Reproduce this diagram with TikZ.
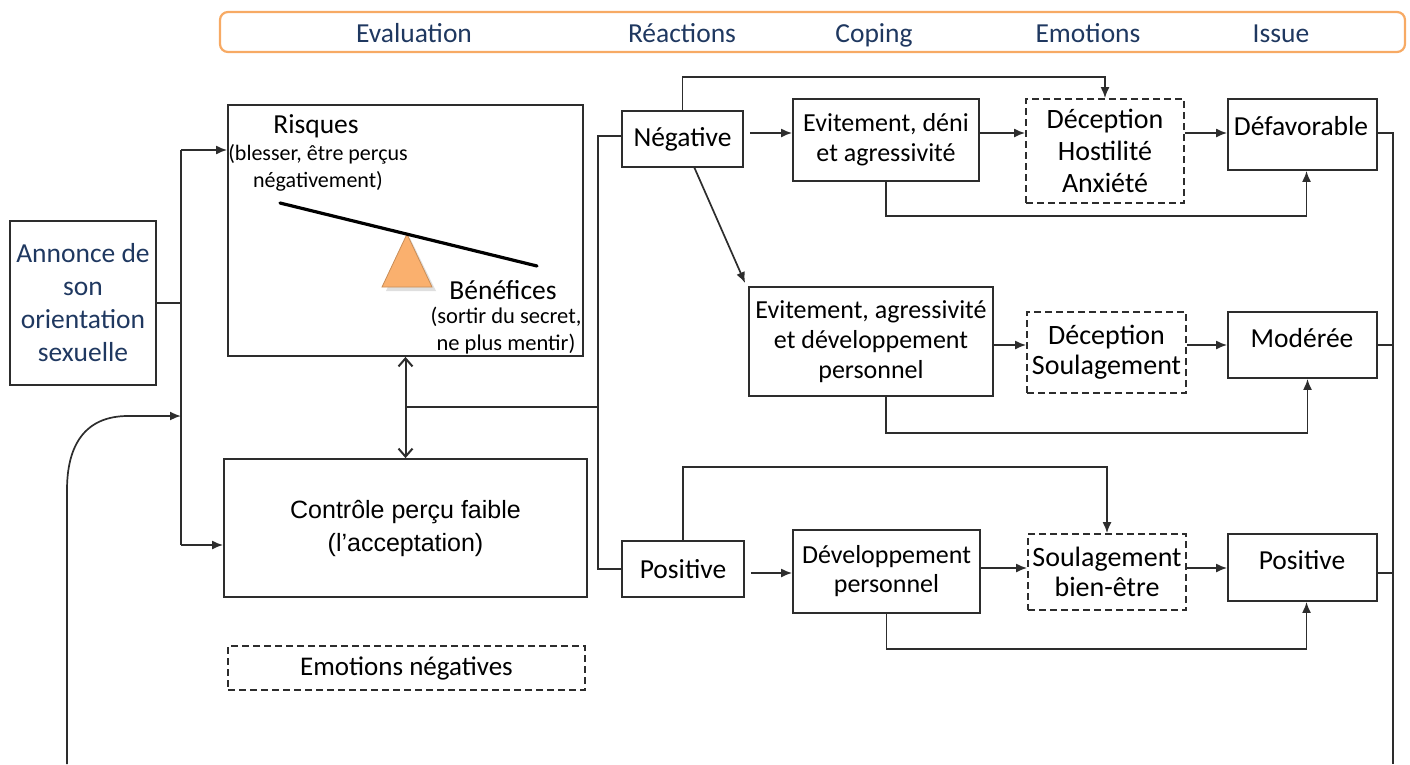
\documentclass[tikz,border=0pt]{standalone}
\usepackage{fontspec}
\setmainfont{Carlito}
\newfontfamily\arialf{Liberation Sans}
\usetikzlibrary{arrows.meta}
\definecolor{navy}{RGB}{31,56,96}
\definecolor{orangeb}{RGB}{247,170,100}
\definecolor{trif}{RGB}{250,176,110}
\definecolor{boxc}{RGB}{45,45,45}
\newcommand\myfs[2]{\fontsize{#1}{#2}\selectfont}
\begin{document}
\begin{tikzpicture}[x=1pt,y=-1pt,
  box/.style={draw=boxc,line width=1.8pt,align=center,inner sep=0pt,font=\myfs{27.5}{30}},
  dbox/.style={box,dash pattern=on 7pt off 4pt},
  txt/.style={inner sep=0pt,align=center,font=\myfs{27.5}{30}},
  hdr/.style={inner sep=0pt,anchor=base,font=\myfs{27.5}{30},text=navy},
  conn/.style={draw=boxc,line width=1.7pt},
  arr/.style={conn,-{Latex[length=11pt,width=9pt]}},
  dbl/.style={conn,line width=2pt,{Straight Barb[length=8pt,width=14pt]}-{Straight Barb[length=8pt,width=14pt]}}
]
\useasboundingbox (0,0) rectangle (1410,764);

% header
\draw[orangeb,line width=2.2pt,rounded corners=8pt] (220,12) rectangle (1405,52);
\node[hdr] (hEval) at (414,42) {Evaluation};
\node[hdr] (hReac) at (682,42) {Réactions};
\node[hdr] (hCop) at (874,42) {Coping};
\node[hdr] (hEmo) at (1088,42) {Emotions};
\node[hdr] (hIss) at (1281,42) {Issue};

% left boxes
\node[box,minimum width=146pt,minimum height=164pt,text=navy,font=\myfs{27.5}{33}] (annonce) at (83,303) {Annonce de\\son\\orientation\\sexuelle};
\node[box,minimum width=355pt,minimum height=251pt] (risques) at (405.5,230.5) {};
\node[box,minimum width=363pt,minimum height=138pt,font=\arialf\myfs{25}{33}] (controle) at (405.5,528) {Contrôle perçu faible\\(l’acceptation)};
\node[dbox,minimum width=357pt,minimum height=44pt,font=\myfs{27}{28}] (emoneg) at (406.5,668) {Emotions négatives};

% inside risques
\fill[gray!25] (410,238) -- (436,291) -- (386,291) -- cycle;
\draw[fill=trif,draw=trif!80!black,line width=0.8pt] (407,234) -- (432,287) -- (382,287) -- cycle;
\draw[line width=3.2pt,line cap=round] (280,203) -- (537,266);
\node[txt] (tRisq) at (316,126) {Risques};
\node[txt,font=\myfs{22}{27}] (tRisq2) at (318,168) {(blesser, être perçus\\négativement)};
\node[txt] (tBen) at (503,290) {Bénéfices};
\node[txt,font=\myfs{22.5}{27}] (tBen2) at (506,331) {(sortir du secret,\\ne plus mentir)};

% right boxes
\node[box,minimum width=121pt,minimum height=56pt] (neg) at (682.5,139) {Négative};
\node[box,minimum width=186pt,minimum height=82pt,font=\myfs{26}{30}] (evd) at (886,140) {Evitement, déni\\et agressivité};
\node[dbox,minimum width=158pt,minimum height=104pt,font=\myfs{28}{32}] (dec1) at (1105,151) {Déception\\Hostilité\\Anxiété};
\node[box,minimum width=149pt,minimum height=71pt] (defav) at (1302.5,134.5) {};
\node[txt] (tDefav) at (1301,126) {Défavorable};

\node[box,minimum width=244pt,minimum height=109pt,font=\myfs{26}{30}] (eva) at (871,341.5) {Evitement, agressivité\\et développement\\personnel};
\node[dbox,minimum width=159pt,minimum height=81pt,font=\myfs{28}{30}] (dec2) at (1106.5,352.5) {Déception\\Soulagement};
\node[box,minimum width=149pt,minimum height=66pt] (mod) at (1302.5,345) {};
\node[txt] (tMod) at (1302,338) {Modérée};

\node[box,minimum width=122pt,minimum height=56pt] (pos) at (683,569) {Positive};
\node[box,minimum width=187pt,minimum height=83pt,font=\myfs{26}{29}] (dev) at (886.5,571.5) {Développement\\personnel};
\node[dbox,minimum width=158pt,minimum height=76pt,font=\myfs{28}{30}] (soul) at (1107,572) {Soulagement\\bien-être};
\node[box,minimum width=149pt,minimum height=67pt] (pos2) at (1302.5,567.5) {};
\node[txt] (tPos2) at (1302,560) {Positive};

% left connectors
\coordinate (vtop) at (181,150);
\coordinate (vbot) at (181,545);
\draw[conn] (annonce.east) -- (annonce.east -| vtop);
\draw[conn] (vtop) -- (vbot);
\draw[arr] (vtop) -- (vtop -| risques.west);
\draw[arr] (vbot) -- (vbot -| controle.west);
\coordinate (cbot) at (67,764);
\coordinate (cin) at (181,416);
\draw[arr] (cbot) -- (67,490) .. controls (67,445) and (85,416) .. (128,416) -- (cin);
\draw[dbl] (risques.south) -- (controle.north);
\coordinate (h1) at (407,407);
\coordinate (vr1) at (598,136);
\draw[conn] (neg.west |- vr1) -- (vr1) -- (vr1 |- pos.west) -- (pos.west);
\draw[conn] (h1) -- (vr1 |- h1);

% negative branch
\draw[arr] (neg.north) -- (neg.north |- 0,77) -| (dec1.north);
\draw[arr,shorten <=6pt] (neg.east |- 0,133) -- (evd.west |- 0,133);
\draw[arr] (evd.east |- 0,133) -- (dec1.west |- 0,133);
\draw[arr] (dec1.east |- 0,133) -- (defav.west |- 0,133);
\draw[arr] (evd.south) -- (evd.south |- 0,216) -| ([xshift=4pt]defav.south);
\draw[arr] ([xshift=12pt]neg.south) -- ([xshift=-3pt,yshift=3pt]eva.north west);
\draw[arr] (eva.east |- 0,345) -- (dec2.west |- 0,345);
\draw[arr] (dec2.east |- 0,345) -- (mod.west |- 0,345);
\draw[arr] ([xshift=15pt]eva.south) -- ([xshift=15pt]eva.south |- 0,433) -| ([xshift=5pt]mod.south);

% positive branch
\draw[arr] (pos.north) -- (pos.north |- 0,467) -| (soul.north);
\draw[arr,shorten <=6pt] (pos.east |- 0,573) -- (dev.west |- 0,573);
\draw[arr] (dev.east |- 0,568) -- (soul.west |- 0,568);
\draw[arr] (soul.east |- 0,568) -- (pos2.west |- 0,568);
\draw[arr] (dev.south) -- (dev.south |- 0,649) -| ([xshift=4pt]pos2.south);

% right return line
\coordinate (rb) at (1393,764);
\draw[conn] (defav.east |- 0,133) -- (rb |- 0,133) -- (rb);
\draw[conn] (mod.east) -- (rb |- mod.east);
\draw[conn] (pos2.east |- 0,573) -- (rb |- 0,573);
\end{tikzpicture}
\end{document}
